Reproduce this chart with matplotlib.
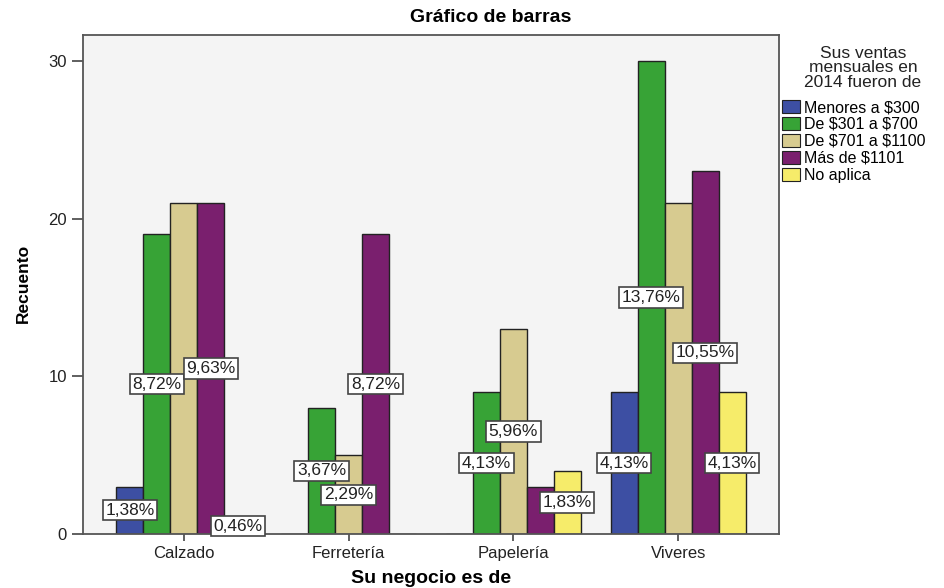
import numpy as np
import matplotlib
matplotlib.use("Agg")
import matplotlib.pyplot as plt
from matplotlib.patches import Patch

plt.rcParams['font.family'] = ['Liberation Sans', 'DejaVu Sans']

categories = ["Calzado", "Ferretería", "Papelería", "Viveres"]
series_names = ["Menores a \\$300", "De \\$301 a \\$700", "De \\$701 a \\$1100",
                "Más de \\$1101", "No aplica"]
colors = ["#3D4FA3", "#37A336", "#D7CB90", "#7A1F6E", "#F6EC6A"]

# counts per category, one list per series
menores_300 = [3, 0, 0, 9]
de_301_700 = [19, 8, 9, 30]
de_701_1100 = [21, 5, 13, 21]
mas_1101 = [21, 19, 3, 23]
no_aplica = [1, 0, 4, 9]
counts = [menores_300, de_301_700, de_701_1100, mas_1101, no_aplica]

# which bars carry a percentage label (per series)
show_menores_300 = [1, 0, 0, 1]
show_de_301_700 = [1, 1, 1, 1]
show_de_701_1100 = [0, 1, 1, 0]
show_mas_1101 = [1, 1, 0, 1]
show_no_aplica = [1, 0, 1, 1]
show = [show_menores_300, show_de_301_700, show_de_701_1100, show_mas_1101, show_no_aplica]

total = sum(sum(s) for s in counts)

fig = plt.figure(figsize=(9.45, 5.88), dpi=100)
ax = fig.add_axes([0.0878, 0.0918, 0.7365, 0.8486])
ax.set_facecolor("#F4F4F4")

x = np.arange(len(categories))
w = 0.1636
for i, (vals, col) in enumerate(zip(counts, colors)):
    xs = x + (i - 2) * w
    ax.bar(xs, vals, width=w, color=col, edgecolor="#222222", linewidth=1.0, zorder=2)
    for xi, v, s in zip(xs, vals, show[i]):
        if s:
            txt = ("%.2f%%" % (100.0 * v / total)).replace(".", ",")
            ax.text(xi, v / 2.0, txt, ha="center", va="center", fontsize=12.5,
                    color="#222222", zorder=4,
                    bbox=dict(boxstyle="square,pad=0.15", fc="white", ec="#444444", lw=1.2))

ax.set_xlim(-0.612, 3.612)
ax.set_ylim(0, 31.65)
ax.set_yticks([0, 10, 20, 30])
ax.set_xticks(x)
ax.set_xticklabels(categories)
ax.tick_params(axis="y", length=8, width=1.2, color="#444444", labelsize=12, labelcolor="#222222")
ax.tick_params(axis="x", length=5, width=1.2, color="#444444", labelsize=12, labelcolor="#222222")
for sp in ax.spines.values():
    sp.set_color("#555555")
    sp.set_linewidth(1.3)

fig.text(491 / 945, 1 - 18 / 588, "Gráfico de barras", ha="center", va="center",
         fontsize=14, fontweight="bold")
fig.text(23 / 945, 1 - 283 / 588, "Recuento", ha="center", va="center", rotation=90,
         fontsize=12.5, fontweight="bold")
fig.text(431 / 945, 1 / 588, "Su negocio es de", ha="center", va="bottom",
         fontsize=14, fontweight="bold")

fig.text(863 / 945, 1 - 68 / 588, "Sus ventas\nmensuales en\n2014 fueron de",
         ha="center", va="center", fontsize=12.5, linespacing=0.95, color="#222222")
handles = [Patch(facecolor=c, edgecolor="#222222", linewidth=0.8) for c in colors]
fig.legend(handles, series_names, loc="upper left", bbox_to_anchor=(782 / 945, 1 - 100 / 588),
           frameon=False, fontsize=11.5, handlelength=1.15, handleheight=0.85,
           handletextpad=0.25, labelspacing=0.12, borderpad=0, borderaxespad=0)

fig.savefig("out.png", dpi=100)
